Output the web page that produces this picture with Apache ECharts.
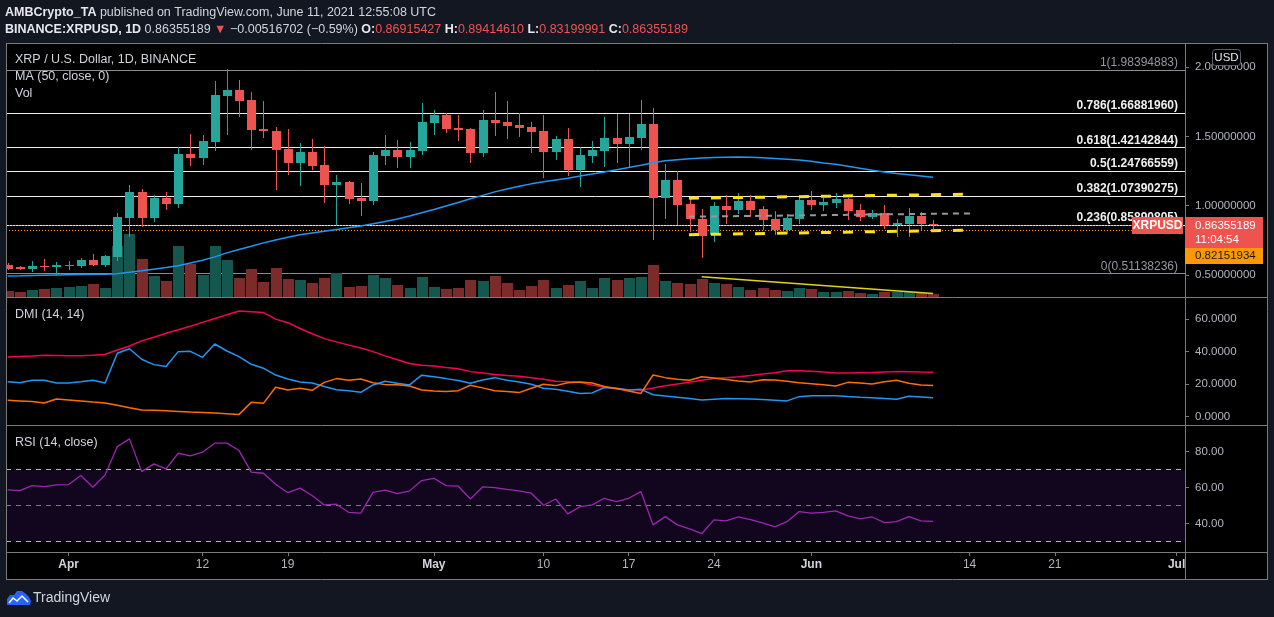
<!DOCTYPE html>
<html>
<head>
<meta charset="utf-8">
<script src="https://cdn.jsdelivr.net/npm/echarts@6/dist/echarts.min.js"></script>
<style>
  html, body { margin: 0; padding: 0; background: #131722; }
  #chart { width: 1274px; height: 617px; }
</style>
</head>
<body>
<div id="chart"></div>
<script>
// daily candles, BINANCE:XRPUSD
const dates = [
  '2021-03-27','2021-03-28','2021-03-29','2021-03-30','2021-03-31',
  '2021-04-01','2021-04-02','2021-04-03','2021-04-04','2021-04-05','2021-04-06','2021-04-07','2021-04-08','2021-04-09','2021-04-10',
  '2021-04-11','2021-04-12','2021-04-13','2021-04-14','2021-04-15','2021-04-16','2021-04-17','2021-04-18','2021-04-19','2021-04-20',
  '2021-04-21','2021-04-22','2021-04-23','2021-04-24','2021-04-25','2021-04-26','2021-04-27','2021-04-28','2021-04-29','2021-04-30',
  '2021-05-01','2021-05-02','2021-05-03','2021-05-04','2021-05-05','2021-05-06','2021-05-07','2021-05-08','2021-05-09','2021-05-10',
  '2021-05-11','2021-05-12','2021-05-13','2021-05-14','2021-05-15','2021-05-16','2021-05-17','2021-05-18','2021-05-19','2021-05-20',
  '2021-05-21','2021-05-22','2021-05-23','2021-05-24','2021-05-25','2021-05-26','2021-05-27','2021-05-28','2021-05-29','2021-05-30',
  '2021-05-31','2021-06-01','2021-06-02','2021-06-03','2021-06-04','2021-06-05','2021-06-06','2021-06-07','2021-06-08','2021-06-09',
  '2021-06-10','2021-06-11'
];
const open = [
  0.5691,0.5546,0.5445,0.5662,0.5590,0.5640,0.5662,0.6073,0.5734,0.6312,
  0.9105,1.0982,0.9105,1.0549,1.0116,1.3725,1.3436,1.4613,1.7934,1.8345,
  1.7602,1.5530,1.5386,1.4086,1.3097,1.3848,1.2931,1.1509,1.1704,1.0571,
  1.0354,1.3602,1.4014,1.3530,1.3963,1.5985,1.6540,1.5602,1.5530,1.3819,
  1.6180,1.6035,1.5819,1.5674,1.5386,1.3891,1.4808,1.2592,1.3602,1.3963,
  1.4880,1.4469,1.4902,1.5891,1.0571,1.1848,1.0116,0.9033,0.7878,0.9971,
  0.9704,1.0332,0.9755,0.9011,0.8239,0.9033,1.0405,1.0065,1.0210,1.0477,
  0.9683,0.9199,0.9466,0.8600,0.8694,0.9250,0.86915427
];
const high = [
  0.5857,0.5662,0.6001,0.6124,0.5951,0.6001,0.6239,0.6528,0.6434,0.9444,
  1.1487,1.1199,1.0766,1.0960,1.4209,1.5169,1.5075,1.8973,1.98394883,1.9067,
  1.8201,1.7551,1.5653,1.5530,1.4519,1.4808,1.4281,1.2188,1.1776,1.1632,
  1.3870,1.5097,1.4736,1.4570,1.7407,1.6901,1.6663,1.6540,1.5602,1.6901,
  1.8201,1.7551,1.6685,1.6035,1.6540,1.5025,1.5602,1.4231,1.4664,1.6396,
  1.6613,1.6634,1.7623,1.7046,1.3003,1.2498,1.0599,0.9755,1.0260,1.0766,
  1.0888,1.0766,0.9971,0.9611,0.9394,1.0766,1.1054,1.0571,1.0910,1.0527,
  1.0116,0.9683,1.0044,0.9011,0.9805,0.9517,0.89414610
];
const low = [
  0.5352,0.5352,0.5207,0.5301,0.4991,0.5352,0.5518,0.5650,0.5590,0.6023,
  0.7755,0.8434,0.8816,0.9683,0.9849,1.2859,1.2953,1.3963,1.5097,1.6418,
  1.4036,1.4902,1.1148,1.2209,1.1437,1.2570,1.0210,0.8600,1.0138,0.9271,
  1.0044,1.2931,1.2736,1.2736,1.3653,1.5118,1.5219,1.4685,1.3097,1.3530,
  1.5046,1.4830,1.4974,1.3819,1.2014,1.3314,1.2159,1.1365,1.3097,1.2808,
  1.3097,1.2808,1.4036,0.7517,0.9033,0.8622,0.8095,0.6239,0.7394,0.8672,
  0.9394,0.9199,0.8239,0.7878,0.7950,0.8672,0.9683,0.9632,0.9849,0.8939,
  0.8889,0.9033,0.8311,0.7755,0.7755,0.8239,0.83199991
];
const close = [
  0.5445,0.5445,0.5640,0.5568,0.5712,0.5734,0.6073,0.5712,0.6362,0.9177,
  1.0982,0.9105,1.0549,1.0116,1.3725,1.3458,1.4685,1.7984,1.8345,1.7573,
  1.5479,1.5386,1.4036,1.3097,1.3848,1.2881,1.1509,1.1682,1.0498,1.0354,
  1.3631,1.4014,1.3530,1.4014,1.6035,1.6540,1.5552,1.5479,1.3819,1.6180,
  1.5963,1.5768,1.5624,1.5335,1.3891,1.4808,1.2592,1.3653,1.4014,1.4880,
  1.4469,1.4952,1.5891,1.0571,1.1848,1.0065,0.9055,0.7827,0.9971,0.9704,
  1.0332,0.9704,0.8961,0.8239,0.9105,1.0405,1.0044,1.0282,1.0477,0.9632,
  0.9199,0.9466,0.8600,0.8744,0.9250,0.8692,0.86355189
];
// volume, relative units
const volume = [
  63,50,73,83,90,100,110,130,90,510,
  630,380,210,160,510,330,220,510,370,190,
  280,150,290,180,170,140,190,237,100,110,
  220,190,120,90,200,100,80,90,170,160,
  210,140,70,110,170,90,120,160,90,190,
  170,190,200,320,160,140,130,180,140,130,
  100,70,90,70,60,90,80,50,50,60,
  40,30,50,50,50,40,30
];
const ma50 = [
  0.492,0.493,0.495,0.497,0.499,0.501,0.503,0.504,0.505,0.509,
  0.519,0.529,0.541,0.553,0.566,0.585,0.606,0.630,0.659,0.683,
  0.706,0.731,0.752,0.771,0.790,0.803,0.815,0.828,0.841,0.853,
  0.869,0.886,0.903,0.925,0.948,0.972,0.997,1.023,1.049,1.074,
  1.099,1.120,1.139,1.157,1.172,1.185,1.198,1.214,1.228,1.243,
  1.259,1.275,1.291,1.309,1.323,1.331,1.339,1.344,1.347,1.349,
  1.351,1.349,1.345,1.340,1.335,1.329,1.320,1.308,1.298,1.284,
  1.269,1.255,1.243,1.231,1.222,1.213,1.204
];
const adx = [
  36.7,37.0,37.3,37.8,37.6,37.4,37.4,37.8,38.4,41.0,
  43.5,46.6,48.8,51.3,53.4,55.6,58.0,60.4,62.7,65.0,
  64.6,64.0,60.0,57.8,54.2,51.0,48.0,46.0,44.0,42.2,
  40.0,37.4,35.0,32.7,31.6,31.1,30.2,29.5,27.7,26.8,
  26.0,25.3,24.8,23.9,23.0,21.8,21.5,21.2,19.5,18.3,
  17.0,16.6,16.4,17.6,19.0,20.1,21.2,22.4,23.4,23.9,
  24.5,25.3,26.2,27.0,28.2,28.3,28.0,27.4,26.9,26.9,
  27.0,27.1,27.4,27.7,27.6,27.4,27.3
];
const plusDI = [
  21.5,20.9,22.4,22.4,20.7,20.7,21.5,22.4,20.7,39.0,
  41.8,35.3,32.0,30.8,40.0,40.2,36.5,44.7,40.4,36.9,
  32.2,29.8,25.6,23.2,21.3,20.7,18.5,16.6,16.0,15.0,
  19.5,21.8,20.5,19.5,25.5,24.5,23.4,22.2,20.5,22.6,
  24.0,22.4,21.3,19.9,17.5,16.8,15.6,14.2,14.6,17.9,
  17.5,16.4,16.8,13.5,12.7,11.9,11.1,10.3,10.7,11.1,
  11.0,10.8,10.5,10.1,9.7,12.3,12.9,12.9,12.9,12.4,
  12.0,11.7,11.2,10.7,12.5,12.1,11.7
];
const minusDI = [
  10.1,9.7,9.3,8.4,10.9,10.3,9.7,9.0,8.4,7.0,
  5.5,4.1,3.9,3.6,3.2,2.8,2.5,2.2,1.8,1.4,
  8.8,8.2,18.1,16.4,17.5,16.2,21.1,23.4,22.4,23.2,
  20.9,19.7,19.7,18.9,16.4,15.8,15.4,16.0,19.3,17.7,
  16.0,15.4,14.8,17.5,19.9,19.1,20.9,21.3,20.7,18.5,
  17.3,15.8,14.3,25.6,24.0,23.0,22.4,24.6,23.8,22.8,
  22.0,21.3,22.7,22.6,21.8,20.9,20.3,19.6,18.9,21.1,
  20.7,20.1,21.5,22.4,20.6,19.5,19.1
];
const rsi = [
  58.7,58.3,61.1,60.6,61.5,61.7,66.7,60.2,67.1,82.8,
  87.1,68.9,73.2,70.4,79.1,77.6,79.7,84.7,84.7,80.6,
  68.6,68.0,61.9,57.2,59.7,55.6,50.4,50.8,46.3,45.8,
  57.4,58.6,56.7,58.2,63.9,65.2,61.1,60.8,53.7,60.4,
  60.0,59.0,58.2,56.9,50.2,53.7,45.4,49.4,50.4,54.1,
  52.2,54.1,57.8,39.3,43.9,39.3,37.1,34.4,42.1,41.5,
  43.7,42.2,40.4,38.2,41.1,46.7,45.8,46.3,47.1,44.3,
  42.6,43.7,40.6,41.1,43.9,41.5,41.3
];
const fibRatios = ['0', '0.236', '0.382', '0.5', '0.618', '0.786', '1'];
const fibPrices = [0.51138236, 0.85890805, 1.07390275, 1.24766559, 1.42142844, 1.66881960, 1.98394883];
const tickDates = ['2021-04-01','2021-04-12','2021-04-19','2021-05-01','2021-05-10','2021-05-17','2021-05-24','2021-06-01','2021-06-14','2021-06-21','2021-07-01'];
const tickLabels = ['Apr','12','19','May','10','17','24','Jun','14','21','Jul'];
const lastPrice = 0.86355189;
const markPrice = 0.82151934;
// drawings: x in days from the first candle
const channelX = [55.95, 78.45];
const channelTop = [1.053, 1.082];
const channelBottom = [0.790, 0.822];
const midX = [55.95, 79.1];
const midY = [0.920, 0.944];
const volTrendX = [57, 76];
const volTrendY = [203, 35];

const FONT = '"Liberation Sans", Arial, sans-serif';
const UP = '#26a69a', DOWN = '#ef5350';
const VOL_UP = '#15564f', VOL_DOWN = '#7a2b2a';
const LINE = '#7b7b7b';
const AXIS_TEXT = '#b2b5be';
const X_MIN = -0.141, X_MAX = 96.69;

const DAY0 = Date.parse(dates[0] + 'T00:00:00Z');
const dayOf = s => (Date.parse(s + 'T00:00:00Z') - DAY0) / 864e5;
const tickX = tickDates.map(dayOf);
const xs = dates.map(dayOf);
const pts = arr => arr.map((v, i) => [xs[i], v]);

function renderCandle(params, api) {
  const x = api.value(0);
  const o = api.value(1), h = api.value(2), l = api.value(3), c = api.value(4);
  const po = api.coord([x, o]), pc = api.coord([x, c]);
  const ph = api.coord([x, h]), pl = api.coord([x, l]);
  const cx = Math.round(po[0]);
  const color = c >= o ? UP : DOWN;
  const top = Math.round(Math.min(po[1], pc[1]));
  const bot = Math.round(Math.max(po[1], pc[1]));
  const wt = Math.round(ph[1]), wb = Math.round(pl[1]);
  return {
    type: 'group',
    children: [
      { type: 'rect', shape: { x: cx, y: wt, width: 1, height: Math.max(1, wb - wt) }, style: { fill: color } },
      { type: 'rect', shape: { x: cx - 4, y: top, width: 9, height: Math.max(1, bot - top) }, style: { fill: color } }
    ]
  };
}

function renderVolume(params, api) {
  const x = api.value(0);
  const base = api.coord([x, 0]);
  const tp = api.coord([x, api.value(1)]);
  const y0 = Math.round(tp[1]);
  return {
    type: 'rect',
    shape: { x: Math.round(base[0]) - 5, y: y0, width: 11, height: Math.round(base[1]) - y0 },
    style: { fill: api.value(2) ? VOL_UP : VOL_DOWN }
  };
}

const chart = echarts.init(document.getElementById('chart'));

const hiddenX = gi => ({ type: 'value', gridIndex: gi, min: X_MIN, max: X_MAX, show: false });
const rightAxis = (gi, min, max, digits) => ({
  type: 'value', gridIndex: gi, position: 'right', min, max, splitNumber: 4,
  axisLine: { show: false, onZero: false },
  splitLine: { show: false },
  axisTick: { show: true, length: 4, lineStyle: { color: LINE } },
  axisLabel: {
    color: AXIS_TEXT, fontSize: 11.5, fontFamily: FONT, margin: 10,
    showMinLabel: false, showMaxLabel: false,
    formatter: v => v.toFixed(digits)
  }
});

const fibLines = fibPrices.map((p, k) => {
  const edge = k === 0 || k === fibPrices.length - 1;
  return {
    yAxis: p,
    lineStyle: { color: edge ? '#8a8d96' : '#ececec', width: 1, type: 'solid' },
    label: {
      show: true, position: 'insideEndTop', distance: [7, 1],
      formatter: fibRatios[k] + '(' + p.toFixed(8) + ')',
      color: edge ? '#9598a1' : '#f0f0f0', fontSize: 12, fontFamily: FONT,
      fontWeight: edge ? 'normal' : 'bold'
    }
  };
});

const option = {
  animation: false,
  backgroundColor: '#131722',
  textStyle: { fontFamily: FONT },
  grid: [
    { left: 6, top: 43, width: 1179, height: 254 },
    { left: 6, top: 297, width: 1179, height: 128 },
    { left: 6, top: 425, width: 1179, height: 127 }
  ],
  xAxis: [
    hiddenX(0),
    hiddenX(1),
    {
      type: 'value', gridIndex: 2, min: X_MIN, max: X_MAX,
      axisLine: { show: false, onZero: false },
      splitLine: { show: false },
      axisTick: { show: true, customValues: tickX, length: 4, lineStyle: { color: LINE } },
      axisLabel: {
        customValues: tickX, margin: 7, color: AXIS_TEXT, fontSize: 12, fontFamily: FONT,
        formatter: v => {
          const t = tickLabels[tickX.indexOf(v)] || '';
          return /^[A-Z]/.test(t) ? '{m|' + t + '}' : t;
        },
        rich: { m: { fontWeight: 'bold', fontSize: 12, color: '#d1d4dc', fontFamily: FONT } }
      }
    }
  ],
  yAxis: [
    rightAxis(0, 0.3403, 2.1738, 8),
    { type: 'value', gridIndex: 0, min: 0, max: 2540, show: false },
    rightAxis(1, -5.13, 73.6, 4),
    rightAxis(2, 24.24, 94.8, 2)
  ],
  series: [
    {
      type: 'custom', name: 'Vol', xAxisIndex: 0, yAxisIndex: 1, z: 1, clip: true,
      renderItem: renderVolume,
      encode: { x: 0, y: 1 },
      data: volume.map((v, i) => [xs[i], v, close[i] >= open[i] ? 1 : 0])
    },
    {
      type: 'line', name: 'Vol trend', xAxisIndex: 0, yAxisIndex: 1, z: 1,
      showSymbol: false, silent: true,
      lineStyle: { color: '#e0d21c', width: 1.5 },
      data: volTrendX.map((x, i) => [x, volTrendY[i]])
    },
    {
      type: 'line', name: 'Fib', xAxisIndex: 0, yAxisIndex: 0, z: 1, data: [],
      markLine: {
        z: 1, silent: true, symbol: 'none', animation: false,
        data: fibLines.concat([
          { yAxis: lastPrice, lineStyle: { color: DOWN, width: 1, type: [1, 2] }, label: { show: false } },
          { yAxis: markPrice, lineStyle: { color: '#ff9800', width: 1, type: [1, 2] }, label: { show: false } }
        ])
      }
    },
    {
      type: 'custom', name: 'XRPUSD', xAxisIndex: 0, yAxisIndex: 0, z: 2, clip: true,
      renderItem: renderCandle,
      encode: { x: 0, y: [1, 2, 3, 4] },
      data: dates.map((d, i) => [xs[i], open[i], high[i], low[i], close[i]])
    },
    {
      type: 'line', name: 'MA 50', xAxisIndex: 0, yAxisIndex: 0, z: 3,
      showSymbol: false, silent: true,
      lineStyle: { color: '#2196f3', width: 1.5 },
      data: pts(ma50)
    },
    {
      type: 'line', name: 'Channel top', xAxisIndex: 0, yAxisIndex: 0, z: 4,
      showSymbol: false, silent: true,
      lineStyle: { color: '#ffe11a', width: 3, type: [10, 12] },
      data: channelX.map((x, i) => [x, channelTop[i]])
    },
    {
      type: 'line', name: 'Channel bottom', xAxisIndex: 0, yAxisIndex: 0, z: 4,
      showSymbol: false, silent: true,
      lineStyle: { color: '#ffe11a', width: 3, type: [10, 12] },
      data: channelX.map((x, i) => [x, channelBottom[i]])
    },
    {
      type: 'line', name: 'Mid', xAxisIndex: 0, yAxisIndex: 0, z: 4,
      showSymbol: false, silent: true,
      lineStyle: { color: '#9598a1', width: 2, type: [6, 5] },
      data: midX.map((x, i) => [x, midY[i]])
    },
    {
      type: 'line', name: 'ADX', xAxisIndex: 1, yAxisIndex: 2, showSymbol: false, silent: true,
      lineStyle: { color: '#f50057', width: 1.5 }, data: pts(adx)
    },
    {
      type: 'line', name: '+DI', xAxisIndex: 1, yAxisIndex: 2, showSymbol: false, silent: true,
      lineStyle: { color: '#2196f3', width: 1.5 }, data: pts(plusDI)
    },
    {
      type: 'line', name: '-DI', xAxisIndex: 1, yAxisIndex: 2, showSymbol: false, silent: true,
      lineStyle: { color: '#ff6d00', width: 1.5 }, data: pts(minusDI)
    },
    {
      type: 'line', name: 'RSI', xAxisIndex: 2, yAxisIndex: 3, showSymbol: false, silent: true, z: 3,
      lineStyle: { color: '#9c27b0', width: 1.3 }, data: pts(rsi),
      markArea: {
        silent: true, z: 1,
        itemStyle: { color: '#11061d' },
        data: [[{ yAxis: 30 }, { yAxis: 70 }]]
      },
      markLine: {
        silent: true, symbol: 'none', z: 2, label: { show: false },
        data: [
          { yAxis: 70, lineStyle: { color: '#b2b5be', width: 1, type: [5, 5] } },
          { yAxis: 50, lineStyle: { color: '#787b86', width: 1, type: [5, 5] } },
          { yAxis: 30, lineStyle: { color: '#b2b5be', width: 1, type: [5, 5] } }
        ]
      }
    }
  ]
};

chart.setOption(option);

// overlay: frame, legends, header and price-axis tags
const yLast = Math.round(chart.convertToPixel({ yAxisIndex: 0 }, lastPrice));

const txt = (text, x, y, o = {}) => ({
  type: 'text', z: 100, silent: true,
  style: Object.assign({ text, x, y, fill: '#d1d4dc', fontSize: 12.5, fontFamily: FONT, verticalAlign: 'middle', align: 'left' }, o)
});
const ln = (x1, y1, x2, y2) => ({ type: 'line', z: 90, silent: true, shape: { x1, y1, x2, y2 }, style: { stroke: LINE, lineWidth: 1 } });
const box = (x, y, w, h, fill, extra = {}) => ({ type: 'rect', z: 95, silent: true, shape: { x, y, width: w, height: h, r: extra.r || 0 }, style: { fill, stroke: extra.stroke || null, lineWidth: 1 } });

const graphics = [
  { type: 'rect', z: -10, silent: true, shape: { x: 6, y: 43, width: 1262, height: 537 }, style: { fill: '#000' } },
  ln(6, 43.5, 1268, 43.5),
  ln(6, 297.5, 1268, 297.5),
  ln(6, 425.5, 1268, 425.5),
  ln(6, 552.5, 1268, 552.5),
  ln(6, 579.5, 1268, 579.5),
  ln(6.5, 43, 6.5, 580),
  ln(1267.5, 43, 1267.5, 580),
  ln(1185.5, 43, 1185.5, 580),

  txt('{b|AMBCrypto_TA} published on TradingView.com, June 11, 2021 12:55:08 UTC', 5, 13, {
    rich: { b: { fontWeight: 'bold', fill: '#e6e8ee', fontSize: 12.5, fontFamily: FONT } }
  }),
  txt('{b|BINANCE:XRPUSD, 1D} 0.86355189 {r|▼} \u22120.00516702 (\u22120.59%) {b|O:}{r|0.86915427} {b|H:}{r|0.89414610} {b|L:}{r|0.83199991} {b|C:}{r|0.86355189}', 5, 30, {
    rich: {
      b: { fontWeight: 'bold', fill: '#e6e8ee', fontSize: 12.5, fontFamily: FONT },
      r: { fill: '#ef5350', fontSize: 12.5, fontFamily: FONT }
    }
  }),

  txt('XRP / U.S. Dollar, 1D, BINANCE', 15, 60),
  txt('MA (50, close, 0)', 15, 77),
  txt('Vol', 15, 94),
  txt('DMI (14, 14)', 15, 315),
  txt('RSI (14, close)', 15, 443),

  box(1132, yLast - 8, 51, 17, '#ef5350'),
  txt('XRPUSD', 1157.5, yLast + 0.5, { fill: '#fff', fontWeight: 'bold', fontSize: 12, align: 'center' }),
  box(1185, yLast - 8, 78, 31, '#ef5350'),
  txt('0.86355189', 1195, yLast + 0.5, { fill: '#fff', fontSize: 11.5 }),
  txt('11:04:54', 1195, yLast + 14.5, { fill: '#fff', fontSize: 11.5 }),
  box(1185, yLast + 23, 78, 16, '#ff9800'),
  txt('0.82151934', 1195, yLast + 31, { fill: '#131722', fontSize: 11.5 }),

  box(1212.5, 49.5, 28, 16, '#000', { stroke: '#5d606b', r: 3 }),
  txt('USD', 1226.5, 57.5, { fill: '#e6e8ee', fontSize: 11.5, align: 'center' }),

  {
    type: 'polygon', z: 100, silent: true,
    shape: { points: [[7, 605], [7, 599], [10, 595], [14, 595], [17, 591], [22, 591], [26, 594], [29, 597], [31, 601], [30, 605]] },
    style: { fill: '#2962ff' }
  },
  { type: 'polyline', z: 101, silent: true, shape: { points: [[9, 603], [13, 598], [17, 601], [22, 596], [28, 602]] }, style: { stroke: '#fff', lineWidth: 1.5, fill: null } },
  txt('TradingView', 33, 598, { fontSize: 14, fill: '#d1d4dc' })
];

chart.setOption({ graphic: graphics });
</script>
</body>
</html>
